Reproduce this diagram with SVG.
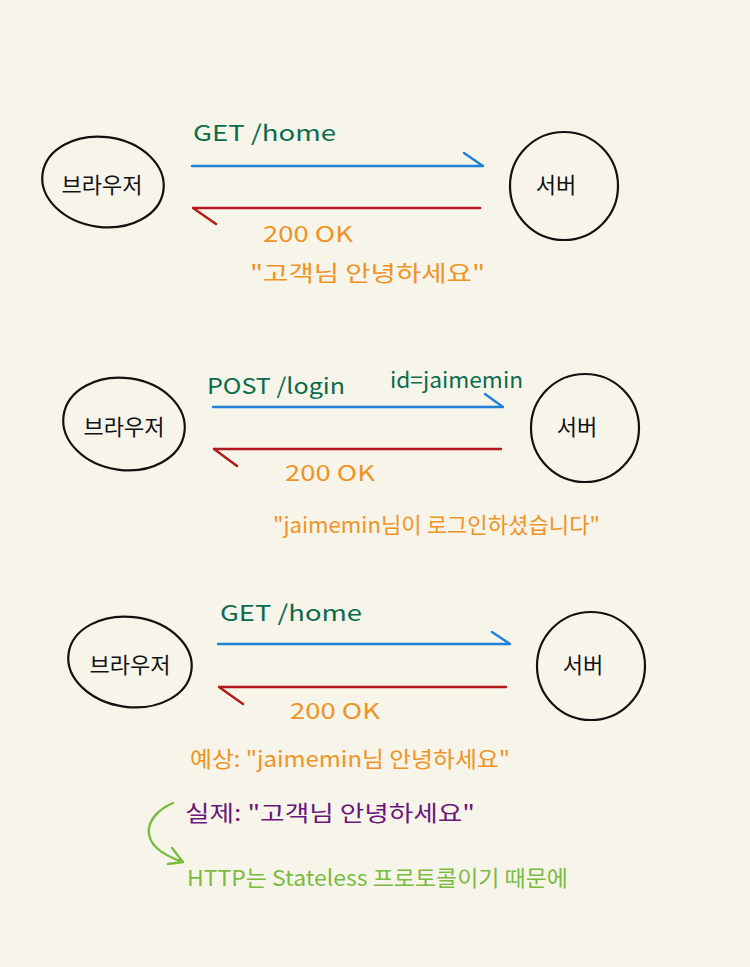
<svg xmlns="http://www.w3.org/2000/svg" width="750" height="967" viewBox="0 0 750 967">
<defs>
<style>
.node{fill:none;stroke:#111;stroke-width:2.2}
.lbl{font-family:"Noto Sans CJK KR","Noto Sans",sans-serif;font-size:22px;fill:#111;text-anchor:middle}
.req{stroke:#1f80d6;stroke-width:2.4;fill:none;stroke-linecap:round}
.res{stroke:#b3181c;stroke-width:2.4;fill:none;stroke-linecap:round}
.t{font-family:"Noto Sans CJK KR","Noto Sans",sans-serif;font-size:22px}
.g{fill:#0c6b4c}
.o{fill:#ef9324}
.p{fill:#6c177a}
.lg{fill:#7bbb3f}
</style>
</defs>
<rect width="750" height="967" fill="#f7f5ea"/>

<g id="browser1"><ellipse class="node" cx="103" cy="182" rx="61" ry="45" transform="rotate(8 103 182)"/><text class="lbl" x="102" y="193">브라우저</text></g>
<g id="server1"><circle class="node" cx="564" cy="186" r="54"/><text class="lbl" x="556" y="193">서버</text></g>
<g id="browser2"><ellipse class="node" cx="124" cy="424" rx="61" ry="46" transform="rotate(8 124 424)"/><text class="lbl" x="124" y="435">브라우저</text></g>
<g id="server2"><circle class="node" cx="585" cy="428" r="54"/><text class="lbl" x="577" y="435">서버</text></g>
<g id="browser3"><ellipse class="node" cx="130" cy="662" rx="62" ry="45" transform="rotate(8 130 662)"/><text class="lbl" x="130" y="673">브라우저</text></g>
<g id="server3"><circle class="node" cx="591" cy="666" r="54"/><text class="lbl" x="583" y="673">서버</text></g>

<g id="connectors">
<path class="req" d="M192 166 H483 M464 153 L483 166"/>
<path class="res" d="M480 208 H193 M193 208 L216 224"/>
<path class="req" d="M213 407 H503 M485 394 L503 407"/>
<path class="res" d="M501 449 H214 M214 449 L237 466"/>
<path class="req" d="M218 644 H510 M492 632 L510 644"/>
<path class="res" d="M506 687 H219 M219 687 L243 704"/>
<path d="M173 803 C145 815 133 845 183 862 M172 848 L183 862 L168 864" fill="none" stroke="#7bbb3f" stroke-width="2.4" stroke-linecap="round" stroke-linejoin="round"/>
</g>

<g id="labels">
<text class="t g" x="193" y="141" textLength="143" lengthAdjust="spacingAndGlyphs" font-size="25">GET /home</text>
<text class="t o" x="263" y="242" textLength="90" lengthAdjust="spacingAndGlyphs">200 OK</text>
<text class="t o" x="250" y="281" textLength="235" lengthAdjust="spacingAndGlyphs" font-size="24">"고객님 안녕하세요"</text>

<text class="t g" x="207" y="394" textLength="138" lengthAdjust="spacingAndGlyphs" font-size="24">POST /login</text>
<text class="t g" x="390" y="388" textLength="133" lengthAdjust="spacingAndGlyphs">id=jaimemin</text>
<text class="t o" x="285" y="481" textLength="90" lengthAdjust="spacingAndGlyphs">200 OK</text>
<text class="t o" x="273" y="533" textLength="327" lengthAdjust="spacingAndGlyphs" font-size="24">"jaimemin님이 로그인하셨습니다"</text>

<text class="t g" x="220" y="621" textLength="142" lengthAdjust="spacingAndGlyphs" font-size="25">GET /home</text>
<text class="t o" x="290" y="719" textLength="90" lengthAdjust="spacingAndGlyphs">200 OK</text>
<text class="t o" x="190" y="767" textLength="320" lengthAdjust="spacingAndGlyphs" font-size="24">예상: "jaimemin님 안녕하세요"</text>
<text class="t p" x="185" y="821" textLength="290" lengthAdjust="spacingAndGlyphs" font-size="25">실제: "고객님 안녕하세요"</text>
<text class="t lg" x="187" y="886" textLength="381" lengthAdjust="spacingAndGlyphs" font-size="24">HTTP는 Stateless 프로토콜이기 때문에</text>
</g>
</svg>
